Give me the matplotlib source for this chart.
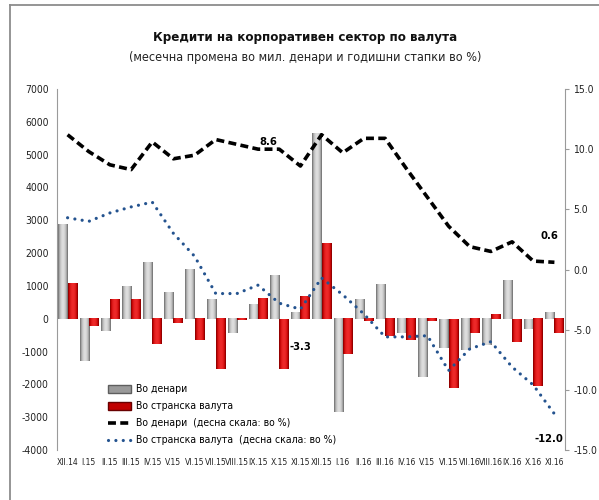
import numpy as np
import matplotlib
matplotlib.use('Agg')
from matplotlib import pyplot as plt
from matplotlib.colors import LinearSegmentedColormap
from matplotlib.patches import Patch
from matplotlib.lines import Line2D

plt.rcParams['font.family'] = ['DejaVu Sans']
plt.rcParams['font.stretch'] = 'condensed'
plt.rcParams['axes.unicode_minus'] = False

months = ['XII.14', 'I.15', 'II.15', 'III.15', 'IV.15', 'V.15', 'VI.15', 'VII.15',
          'VIII.15', 'IX.15', 'X.15', 'XI.15', 'XII.15', 'I.16', 'II.16', 'III.16',
          'IV.16', 'V.15', 'VI.15', 'VII.16', 'VIII.16', 'IX.16', 'X.16', 'XI.16']

# monthly change, mil. denars
den_chg = [2870, -1300, -380, 980, 1730, 800, 1500, 580, -440, 450, 1330, 200,
           5640, -2850, 600, 1060, -430, -1770, -880, -960, -810, 1160, -300, 200]
fx_chg = [1080, -220, 580, 580, -770, -140, -640, -1530, -50, 610, -1520, 680,
          2290, -1090, -80, -540, -640, -80, -2100, -450, 150, -700, -2050, -430]

# annual growth rates, %
den_rate = [11.2, 9.8, 8.7, 8.3, 10.6, 9.2, 9.5, 10.8, 10.4, 10.0, 10.0, 8.6,
            11.2, 9.7, 10.9, 10.9, 8.4, 6.0, 3.6, 1.9, 1.5, 2.3, 0.7, 0.6]
fx_rate = [4.3, 4.0, 4.7, 5.2, 5.6, 3.0, 1.1, -2.0, -2.0, -1.3, -2.8, -3.3,
           -0.7, -2.1, -3.7, -5.6, -5.6, -5.5, -8.4, -6.6, -6.0, -8.1, -9.6, -12.0]

fig = plt.figure(figsize=(5.99, 5.0), dpi=100)
ax = fig.add_axes([57/599, 50/500, 508/599, 361/500])
ax2 = ax.twinx()

gray_cm = LinearSegmentedColormap.from_list('g', ['#5e5e5e', '#9a9a9a', '#dedede'])
red_cm = LinearSegmentedColormap.from_list('r', ['#680000', '#c00000', '#ee2a2a'])
t = np.linspace(0, 1, 40)
grad = (np.sin(np.pi * t) ** 0.6)[None, :]

x = np.arange(len(months))
w = 0.43


def grad_bar(xc, h, cmap):
    y0, y1 = min(0, h), max(0, h)
    ax.imshow(grad, extent=(xc - w/2, xc + w/2, y0, y1), aspect='auto',
              cmap=cmap, vmin=0, vmax=1, zorder=2, interpolation='bilinear')


for i in range(len(months)):
    grad_bar(x[i] - w/2, den_chg[i], gray_cm)
    grad_bar(x[i] + w/2, fx_chg[i], red_cm)

ax.set_xlim(-0.5, len(months) - 0.5)
ax.set_ylim(-4000, 7000)
ax.set_yticks(range(-4000, 7001, 1000))
ax.set_xticks(x)
ax.set_xticklabels(months)
for s in ['top', 'right', 'bottom']:
    ax.spines[s].set_visible(False)
ax.spines['left'].set_color('#9a9a9a')
ax.tick_params(axis='y', length=0, pad=6, labelsize=7.5, colors='#222222')
ax.tick_params(axis='x', length=0, pad=6, labelsize=6.1, colors='#222222')

ax2.plot(x, den_rate, color='black', lw=2.6, dashes=(2.2, 1.2), zorder=3)
ax2.plot(x, fx_rate, color='#24538f', lw=2.3, linestyle=(0, (0.01, 2.3)),
         dash_capstyle='round', zorder=3)
ax2.set_ylim(-15, 15)
ax2.set_yticks(np.arange(-15, 15.1, 5))
ax2.set_yticklabels([f'{v:.1f}' for v in np.arange(-15, 15.1, 5)])
for s in ['top', 'left', 'bottom']:
    ax2.spines[s].set_visible(False)
ax2.spines['right'].set_color('#9a9a9a')
ax2.tick_params(axis='y', length=3, color='#9a9a9a', pad=3, labelsize=7.5, colors='#222222')

lab = dict(textcoords='offset pixels', fontsize=8, fontweight='bold', ha='center', va='center')
ax2.annotate('8.6', (11, den_rate[11]), xytext=(-32, 24), **lab)
ax2.annotate('-3.3', (11, fx_rate[11]), xytext=(0, -38), **lab)
ax2.annotate('0.6', (23, den_rate[23]), xytext=(-5, 26), **lab)
ax2.annotate('-12.0', (23, fx_rate[23]), xytext=(-5, -25), **lab)

fig.text(305/599, 1 - 37/500, 'Кредити на корпоративен сектор по валута',
         ha='center', va='center', fontsize=9.5, fontweight='bold', color='#111111')
fig.text(305/599, 1 - 58/500, '(месечна промена во мил. денари и годишни стапки во %)',
         ha='center', va='center', fontsize=9, color='#222222')

handles = [Patch(facecolor='#9a9a9a', edgecolor='#5e5e5e'),
           Patch(facecolor='#c00000', edgecolor='#680000'),
           Line2D([], [], color='black', lw=2.6, dashes=(2.2, 1.2)),
           Line2D([], [], color='#24538f', lw=2.3, linestyle=(0, (0.01, 2.3)),
                  dash_capstyle='round')]
labels = ['Во денари', 'Во странска валута', 'Во денари  (десна скала: во %)',
          'Во странска валута  (десна скала: во %)']
fig.legend(handles, labels, loc='upper left', bbox_to_anchor=(103/599, 1 - 379/500),
           frameon=False, fontsize=7.5, handlelength=2.2, handleheight=0.8,
           labelspacing=0.68, borderpad=0, handletextpad=0.5)

# outer frame (only top and left edges visible in the crop)
fig.add_artist(Line2D([10/599, 10/599], [0, 1 - 5/500], color='#8c8c8c', lw=1.3))
fig.add_artist(Line2D([10/599, 1], [1 - 5/500, 1 - 5/500], color='#8c8c8c', lw=1.3))

fig.savefig('out.png', dpi=100)
